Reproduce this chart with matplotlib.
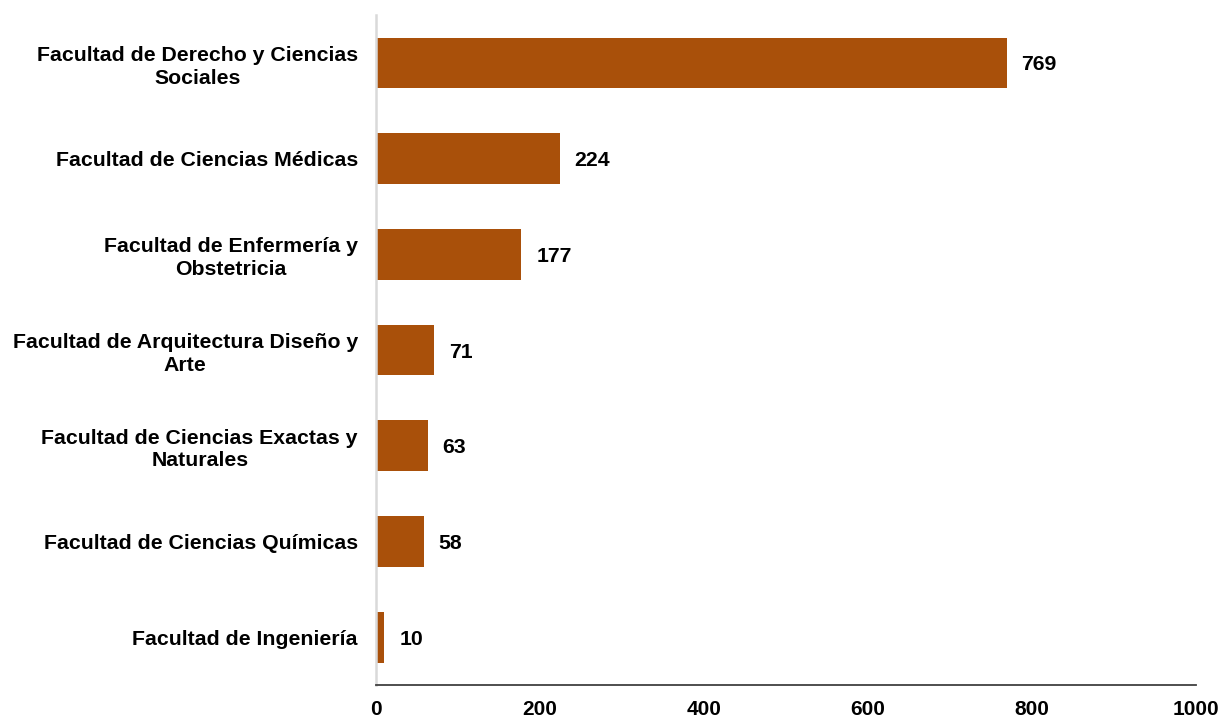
import matplotlib.pyplot as plt

# datos
facultades = [
    "Facultad de Derecho y Ciencias\nSociales",
    "Facultad de Ciencias Médicas",
    "Facultad de Enfermería y\nObstetricia",
    "Facultad de Arquitectura Diseño y\nArte",
    "Facultad de Ciencias Exactas y\nNaturales",
    "Facultad de Ciencias Químicas",
    "Facultad de Ingeniería",
]
valores = [769, 224, 177, 71, 63, 58, 10]
ticks_x = [0, 200, 400, 600, 800, 1000]

plt.rcParams['font.family'] = ['Liberation Sans', 'DejaVu Sans']

fig = plt.figure(figsize=(12.22, 7.19), dpi=100)
ax = fig.add_axes([0.3077, 0.0473, 0.6710, 0.9317])

pos = list(range(len(facultades)))[::-1]
ax.barh(pos, valores, height=0.53, color='#A9500A')

for p, v in zip(pos, valores):
    ax.annotate(str(v), (v, p), xytext=(15, -2), textcoords='offset pixels',
                va='center', ha='left', fontsize=15.3, fontweight='bold')

ax.set_xlim(0, 1000)
ax.set_ylim(-0.5, len(facultades) - 0.5)
ax.set_yticks(pos)
ax.set_yticklabels(facultades, fontsize=15.3, fontweight='bold', ha='right',
                   multialignment='center', linespacing=1.25)
ax.set_xticks(ticks_x)
ax.set_xticklabels([str(t) for t in ticks_x], fontsize=15, fontweight='bold')
ax.tick_params(axis='y', length=0, pad=13)
ax.tick_params(axis='x', length=0, pad=11)

for s in ['top', 'right']:
    ax.spines[s].set_visible(False)
ax.spines['left'].set_color('#D9D9D9')
ax.spines['left'].set_linewidth(1.8)
ax.spines['bottom'].set_color('#404040')
ax.spines['bottom'].set_linewidth(1.3)

fig.savefig('out.png', dpi=100)
